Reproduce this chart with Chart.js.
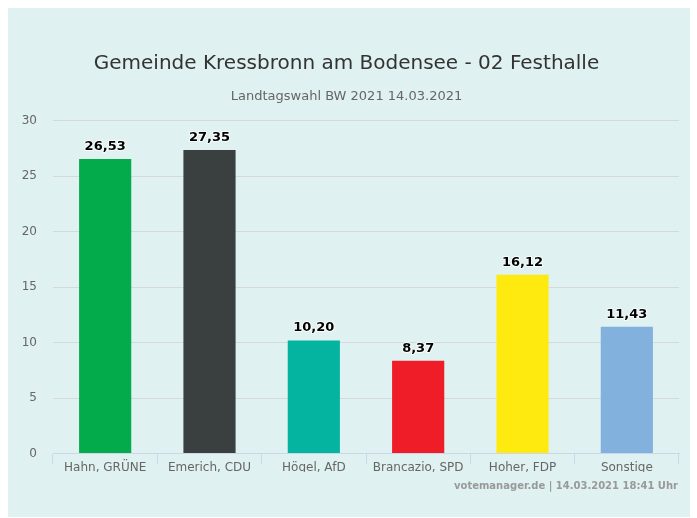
<!DOCTYPE html>
<html>
<head>
<meta charset="utf-8">
<script src="https://cdn.jsdelivr.net/npm/chart.js@4.4.1/dist/chart.umd.min.js"></script>
<style>
  body { margin: 0; background: #fff; }
  #wrap { width: 697px; height: 518px; }
</style>
</head>
<body>
<div id="wrap"><canvas id="chartCanvas" width="697" height="518"></canvas></div>
<script>
document.addEventListener("DOMContentLoaded", function() {
  var candidates = ['Hahn, GRÜNE', 'Emerich, CDU', 'Högel, AfD', 'Brancazio, SPD', 'Hoher, FDP', 'Sonstige'];
  var votes = [26.53, 27.35, 10.20, 8.37, 16.12, 11.43];
  var barColors = ['#04ab4b', '#3a3f3f', '#05b4a0', '#ef1d27', '#ffea0f', '#82b1de'];
  var yTicks = [0, 5, 10, 15, 20, 25, 30];

  var font = "'DejaVu Sans', sans-serif";

  // light panel behind everything
  var panelPlugin = {
    id: 'panel',
    beforeDraw: function(chart) {
      var ctx = chart.ctx;
      ctx.save();
      ctx.fillStyle = '#dff1f0';
      ctx.fillRect(8, 8, 682, 509);
      ctx.restore();
    }
  };

  // value labels above the bars + credit line
  var labelPlugin = {
    id: 'valueLabels',
    afterDatasetsDraw: function(chart) {
      var ctx = chart.ctx;
      var meta = chart.getDatasetMeta(0);
      ctx.save();
      ctx.font = 'bold 13px ' + font;
      ctx.textAlign = 'center';
      ctx.textBaseline = 'bottom';
      ctx.lineJoin = 'round';
      meta.data.forEach(function(bar, i) {
        var txt = votes[i].toFixed(2).replace('.', ',');
        ctx.strokeStyle = 'rgba(255,255,255,0.8)';
        ctx.lineWidth = 2;
        ctx.strokeText(txt, bar.x, bar.y - 6);
        ctx.fillStyle = '#000';
        ctx.fillText(txt, bar.x, bar.y - 6);
      });
      ctx.font = 'bold 10px ' + font;
      ctx.textAlign = 'right';
      ctx.textBaseline = 'middle';
      ctx.fillStyle = '#999';
      ctx.fillText('votemanager.de | 14.03.2021 18:41 Uhr', 678, 486);
      ctx.restore();
    }
  };

  var ctx = document.getElementById('chartCanvas').getContext('2d');
  new Chart(ctx, {
    type: 'bar',
    data: {
      labels: candidates,
      datasets: [{
        data: votes,
        backgroundColor: barColors,
        borderWidth: 0,
        barPercentage: 0.5,
        categoryPercentage: 1.0
      }]
    },
    options: {
      responsive: false,
      animation: false,
      layout: { padding: { left: 14, right: 18, top: 52, bottom: 46 } },
      plugins: {
        legend: { display: false },
        tooltip: { enabled: false },
        title: {
          display: true,
          text: 'Gemeinde Kressbronn am Bodensee - 02 Festhalle',
          color: '#333',
          font: { family: font, size: 20, weight: 'normal' },
          padding: { top: 0, bottom: 13 }
        },
        subtitle: {
          display: true,
          text: 'Landtagswahl BW 2021 14.03.2021',
          color: '#666',
          font: { family: font, size: 13, weight: 'normal' },
          padding: { top: 0, bottom: 16 }
        }
      },
      scales: {
        y: {
          min: 0,
          max: 30,
          afterBuildTicks: function(axis) {
            axis.ticks = yTicks.map(function(v) { return { value: v }; });
          },
          afterFit: function(axis) { axis.width = 39; },
          border: { display: false },
          grid: { color: '#d5d9d9', drawTicks: false },
          ticks: { color: '#666', padding: 16, font: { family: font, size: 12 } }
        },
        x: {
          border: { color: '#ccd6eb' },
          grid: { offset: true, drawOnChartArea: false, drawTicks: true, tickLength: 10, color: '#ccd6eb' },
          ticks: { color: '#666', padding: -3, maxRotation: 0, font: { family: font, size: 12 } }
        }
      }
    },
    plugins: [panelPlugin, labelPlugin]
  });
});
</script>
</body>
</html>
